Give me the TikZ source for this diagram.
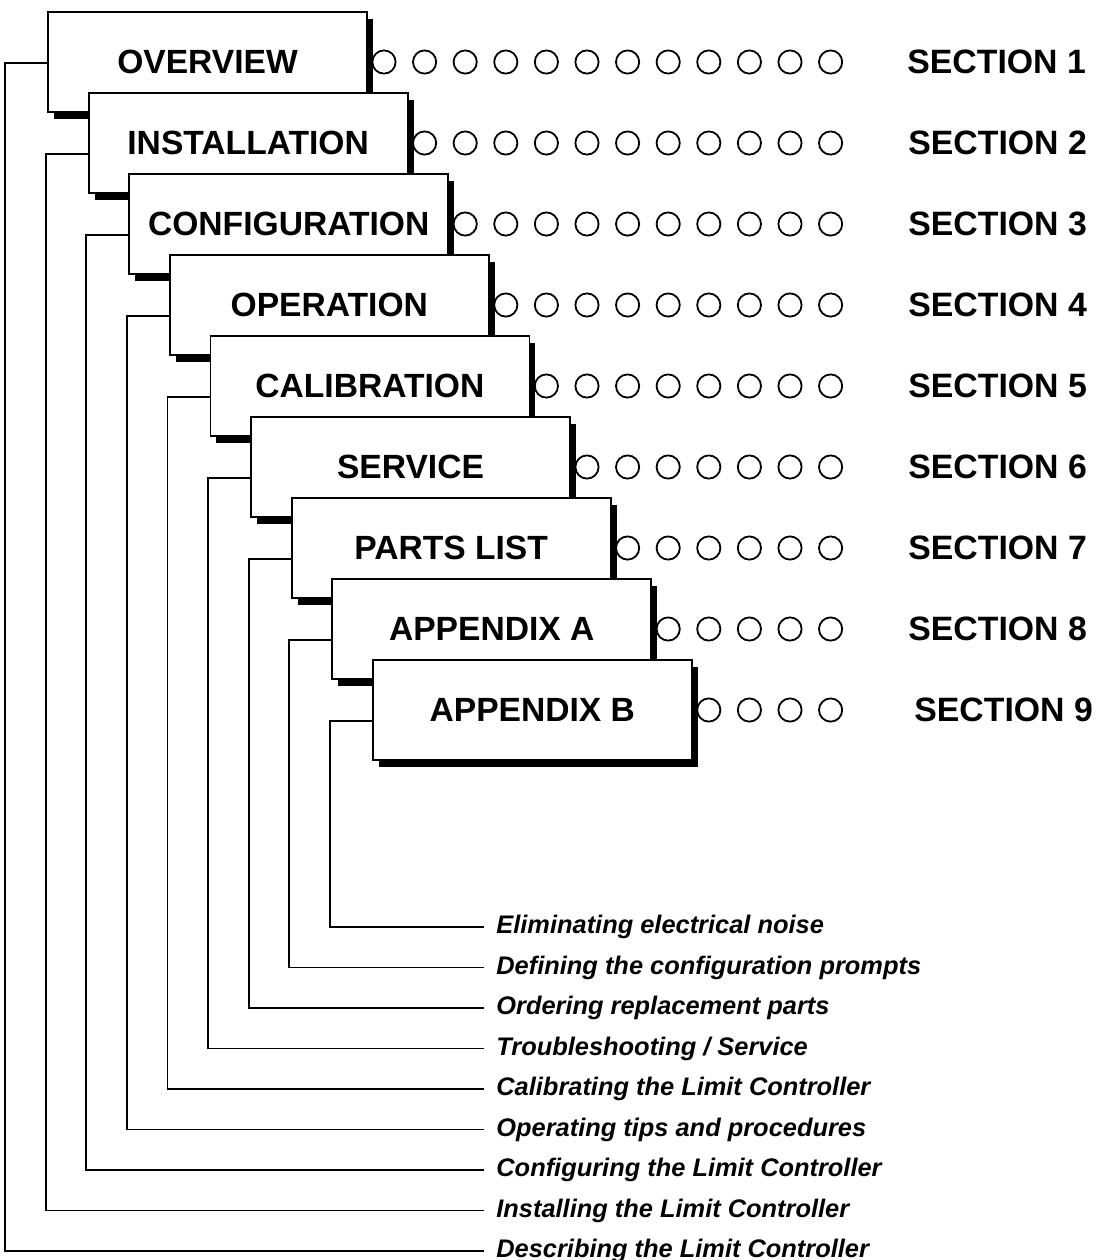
\documentclass[tikz,border=0pt]{standalone}
\usepackage{fontspec}
\setmainfont{Liberation Sans}
\usetikzlibrary{positioning, shadows, calc}

\begin{document}
\begin{tikzpicture}[
  x=0.5pt, y=-0.5pt,
  tab/.style={draw, fill=white, line width=0.9pt, minimum width=159.5pt, minimum height=50pt,
    inner sep=0pt, font=\fontsize{16.8}{20}\selectfont\bfseries,
    drop shadow={shadow xshift=3pt, shadow yshift=-3.5pt, fill=black, opacity=1}},
  sect/.style={font=\fontsize{16.9}{20}\selectfont\bfseries, anchor=west, inner sep=0pt},
  topic/.style={font=\fontsize{12.7}{14}\selectfont\bfseries\itshape, anchor=west, inner sep=3pt,
    yshift=-1pt},
  lead/.style={line width=0.9pt},
  ring/.style={line width=0.9pt},
]
\useasboundingbox (0,0) rectangle (1104,1260);

% row 1
\node[tab] (ov) at (207.5,62) {OVERVIEW};
\foreach \m in {0,...,11} \draw[ring] (384+40.6*\m,62) circle[radius=5.8pt];
\node[sect] (s1) at (907,62) {SECTION 1};
\node[topic] (tOv) at (490,1249) {Describing the Limit Controller};
\draw[lead] ([yshift=-0.5pt]ov.west) -- ++(-42,0) |- ([xshift=-3pt]tOv.west);

% row 2
\node[tab] (inst) at (248.1,143) {INSTALLATION};
\foreach \m in {1,...,11} \draw[ring] (384+40.6*\m,143) circle[radius=5.8pt];
\node[sect] (s2) at (908,143) {SECTION 2};
\node[topic] (tInst) at (490,1208.5) {Installing the Limit Controller};
\draw[lead] ([yshift=-5.5pt]inst.west) -- ++(-42,0) |- ([xshift=-3pt]tInst.west);

% row 3
\node[tab] (conf) at (288.7,224) {CONFIGURATION};
\foreach \m in {2,...,11} \draw[ring] (384+40.6*\m,224) circle[radius=5.8pt];
\node[sect] (s3) at (908,224) {SECTION 3};
\node[topic] (tConf) at (490,1168) {Configuring the Limit Controller};
\draw[lead] ([yshift=-5.5pt]conf.west) -- ++(-42,0) |- ([xshift=-3pt]tConf.west);

% row 4
\node[tab] (oper) at (329.3,305) {OPERATION};
\foreach \m in {3,...,11} \draw[ring] (384+40.6*\m,305) circle[radius=5.8pt];
\node[sect] (s4) at (908,305) {SECTION 4};
\node[topic] (tOper) at (490,1127.5) {Operating tips and procedures};
\draw[lead] ([yshift=-5.5pt]oper.west) -- ++(-42,0) |- ([xshift=-3pt]tOper.west);

% row 5
\node[tab] (cal) at (369.9,386) {CALIBRATION};
\foreach \m in {4,...,11} \draw[ring] (384+40.6*\m,386) circle[radius=5.8pt];
\node[sect] (s5) at (908,386) {SECTION 5};
\node[topic] (tCal) at (490,1087) {Calibrating the Limit Controller};
\draw[lead] ([yshift=-5.5pt]cal.west) -- ++(-42,0) |- ([xshift=-3pt]tCal.west);

% row 6
\node[tab] (serv) at (410.5,467) {SERVICE};
\foreach \m in {5,...,11} \draw[ring] (384+40.6*\m,467) circle[radius=5.8pt];
\node[sect] (s6) at (908,467) {SECTION 6};
\node[topic] (tServ) at (490,1046.5) {Troubleshooting / Service};
\draw[lead] ([yshift=-5.5pt]serv.west) -- ++(-42,0) |- ([xshift=-3pt]tServ.west);

% row 7
\node[tab] (parts) at (451.1,548) {PARTS LIST};
\foreach \m in {6,...,11} \draw[ring] (384+40.6*\m,548) circle[radius=5.8pt];
\node[sect] (s7) at (908,548) {SECTION 7};
\node[topic] (tParts) at (490,1006) {Ordering replacement parts};
\draw[lead] ([yshift=-5.5pt]parts.west) -- ++(-42,0) |- ([xshift=-3pt]tParts.west);

% row 8
\node[tab] (appA) at (491.7,629) {APPENDIX A};
\foreach \m in {7,...,11} \draw[ring] (384+40.6*\m,629) circle[radius=5.8pt];
\node[sect] (s8) at (908,629) {SECTION 8};
\node[topic] (tAppA) at (490,965.5) {Defining the configuration prompts};
\draw[lead] ([yshift=-5.5pt]appA.west) -- ++(-42,0) |- ([xshift=-3pt]tAppA.west);

% row 9
\node[tab] (appB) at (532.3,710) {APPENDIX B};
\foreach \m in {8,...,11} \draw[ring] (384+40.6*\m,710) circle[radius=5.8pt];
\node[sect] (s9) at (914,710) {SECTION 9};
\node[topic] (tAppB) at (490,925) {Eliminating electrical noise};
\draw[lead] ([yshift=-5.5pt]appB.west) -- ++(-42,0) |- ([xshift=-3pt]tAppB.west);
\end{tikzpicture}
\end{document}
